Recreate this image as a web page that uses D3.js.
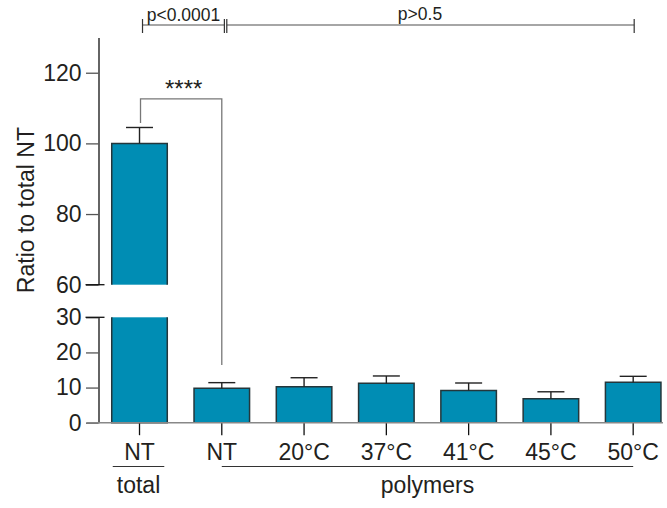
<!DOCTYPE html>
<html>
<head>
<meta charset="utf-8">
<script src="https://cdn.jsdelivr.net/npm/d3@7"></script>
<style>
  body { margin: 0; background: #fff; }
  text { font-family: "Liberation Sans", Arial, Helvetica, sans-serif; fill: #231f20; }
</style>
</head>
<body>
<svg id="chart" width="667" height="508"></svg>
<script>
// data
const categories = ["total NT", "NT", "20°C", "37°C", "41°C", "45°C", "50°C"];
const tickLabels = ["NT", "NT", "20°C", "37°C", "41°C", "45°C", "50°C"];
const means = [100, 9.8, 10.2, 11.2, 9.2, 6.8, 11.5];
const errors = [4.5, 1.6, 2.6, 2.1, 2.1, 2.0, 1.7];

// broken y axis
const lowerDomain = [0, 30];
const upperDomain = [60, 130];
const lowerTicks = [0, 10, 20, 30];
const upperTicks = [60, 80, 100, 120];

const groupNames = ["total", "polymers"];
const groupFrom = [0, 1];
const groupTo = [0, 6];

const pLabels = ["p<0.0001", "p>0.5"];
const starLabel = "****";
const yLabel = "Ratio to total NT";

const svg = d3.select("#chart");

const x = d3.scaleBand()
  .domain(categories)
  .range([85, 687.7])
  .paddingInner(0.325)
  .paddingOuter(0.325);
const cx = c => x(c) + x.bandwidth() / 2;

const yLow = d3.scaleLinear().domain(lowerDomain).range([422.7, 317.3]);
const yHigh = d3.scaleLinear().domain(upperDomain).range([284.7, 37.4]);
const axisX = 98.5;

const barFill = "#008db4";
const barStroke = "#24363b";
const fontSize = "23px";

// y axis, two pieces
const drawYAxis = (scale, ticks) => {
  const g = svg.append("g")
    .attr("transform", `translate(${axisX},0)`)
    .call(d3.axisLeft(scale).tickValues(ticks).tickSize(12.5).tickSizeOuter(0).tickPadding(4.5));
  g.select(".domain").attr("stroke", "#111").attr("stroke-width", 1.3);
  g.selectAll(".tick line").attr("stroke", "#555").attr("stroke-width", 1.3);
  g.selectAll(".tick text")
    .attr("fill", "#231f20")
    .style("font-size", fontSize)
    .style("font-family", "Liberation Sans, Arial, sans-serif");
  return g;
};
drawYAxis(yLow, lowerTicks);
drawYAxis(yHigh, upperTicks);

// break caps
[yHigh(upperDomain[0]), yLow(lowerDomain[1])].forEach(yy => {
  svg.append("line")
    .attr("x1", axisX - 13).attr("x2", axisX + 6)
    .attr("y1", yy).attr("y2", yy)
    .attr("stroke", "#111").attr("stroke-width", 1.3);
});

// y label
svg.append("text")
  .attr("transform", `translate(34,${(yLow(0) + yHigh(upperDomain[1])) / 2 - 20}) rotate(-90)`)
  .attr("text-anchor", "middle")
  .style("font-size", fontSize)
  .text(yLabel);

// bars
const bw = x.bandwidth();
categories.forEach((c, i) => {
  const v = means[i];
  const x0 = x(c), x1 = x0 + bw;
  const pieces = [];
  if (v <= lowerDomain[1]) {
    pieces.push({ top: yLow(v), bottom: yLow(0), openTop: false });
  } else {
    pieces.push({ top: yLow(lowerDomain[1]), bottom: yLow(0), openTop: true });
    pieces.push({ top: yHigh(v), bottom: yHigh(upperDomain[0]), openTop: false });
  }
  pieces.forEach(p => {
    svg.append("rect")
      .attr("x", x0).attr("y", p.top)
      .attr("width", bw).attr("height", p.bottom - p.top)
      .attr("fill", barFill);
    const path = d3.path();
    if (p.openTop) {
      path.moveTo(x0, p.top); path.lineTo(x0, p.bottom); path.lineTo(x1, p.bottom); path.lineTo(x1, p.top);
    } else {
      path.moveTo(x0, p.bottom); path.lineTo(x0, p.top); path.lineTo(x1, p.top); path.lineTo(x1, p.bottom);
    }
    svg.append("path").attr("d", path.toString())
      .attr("fill", "none").attr("stroke", barStroke).attr("stroke-width", 1.5);
  });

  // error bar (upper only)
  const sc = v > lowerDomain[1] ? yHigh : yLow;
  const xc = cx(c);
  svg.append("line")
    .attr("x1", xc).attr("x2", xc)
    .attr("y1", sc(v)).attr("y2", sc(v + errors[i]))
    .attr("stroke", "#222").attr("stroke-width", 1.4);
  svg.append("line")
    .attr("x1", xc - 13.5).attr("x2", xc + 13.5)
    .attr("y1", sc(v + errors[i])).attr("y2", sc(v + errors[i]))
    .attr("stroke", "#222").attr("stroke-width", 1.4);
});

// x axis
const xAxisG = svg.append("g")
  .attr("transform", `translate(0,${yLow(0)})`)
  .call(d3.axisBottom(x).tickSize(12.5).tickPadding(8.5).tickFormat((d, i) => tickLabels[i]));
xAxisG.select(".domain").remove();
xAxisG.selectAll(".tick line").attr("stroke", "#111").attr("stroke-width", 1.3);
xAxisG.selectAll(".tick text")
  .attr("fill", "#231f20")
  .style("font-size", fontSize)
  .style("font-family", "Liberation Sans, Arial, sans-serif");

svg.append("line")
  .attr("x1", axisX - 12).attr("x2", x(categories[6]) + bw + 2)
  .attr("y1", yLow(0)).attr("y2", yLow(0))
  .attr("stroke", "#888").attr("stroke-width", 1.5);

// group labels
groupNames.forEach((name, k) => {
  const a = categories[groupFrom[k]], b = categories[groupTo[k]];
  const xa = groupFrom[k] === groupTo[k] ? x(a) + 1 : cx(a);
  const xb = groupFrom[k] === groupTo[k] ? x(a) + bw - 3 : cx(b);
  svg.append("line")
    .attr("x1", xa).attr("x2", xb)
    .attr("y1", 466.5).attr("y2", 466.5)
    .attr("stroke", "#333").attr("stroke-width", 1.2);
  svg.append("text")
    .attr("x", (xa + xb) / 2).attr("y", 493)
    .attr("text-anchor", "middle")
    .style("font-size", fontSize)
    .text(name);
});

// significance bracket ****
const totalC = categories[0], ntC = categories[1];
const sigTop = yHigh(112.6);
svg.append("path")
  .attr("d", `M${cx(totalC) + 1},${yHigh(means[0] + errors[0]) - 4.5}V${sigTop}H${cx(ntC)}V${yLow(means[1] + errors[1]) - 17.7}`)
  .attr("fill", "none").attr("stroke", "#777").attr("stroke-width", 1.3);
svg.append("text")
  .attr("x", (cx(totalC) + cx(ntC)) / 2 + 3).attr("y", 97)
  .attr("text-anchor", "middle")
  .style("font-size", "24px")
  .text(starLabel);

// top p-value brackets
const topY = 25;
const xs = [cx(totalC) + 3, cx(ntC) + 2.6, cx(ntC) + 5, cx(categories[6]) + 1];
svg.append("line").attr("x1", xs[0]).attr("x2", xs[1]).attr("y1", topY).attr("y2", topY)
  .attr("stroke", "#888").attr("stroke-width", 1.5);
svg.append("line").attr("x1", xs[2]).attr("x2", xs[3]).attr("y1", topY).attr("y2", topY)
  .attr("stroke", "#888").attr("stroke-width", 1.5);
xs.forEach(xx => {
  svg.append("line").attr("x1", xx).attr("x2", xx).attr("y1", topY - 6).attr("y2", topY + 8)
    .attr("stroke", "#333").attr("stroke-width", 1.2);
});
svg.append("text")
  .attr("x", (xs[0] + xs[1]) / 2).attr("y", 21)
  .attr("text-anchor", "middle")
  .style("font-size", "17.5px")
  .text(pLabels[0]);
svg.append("text")
  .attr("x", 420).attr("y", 20)
  .attr("text-anchor", "middle")
  .style("font-size", "17.5px")
  .text(pLabels[1]);
</script>
</body>
</html>
